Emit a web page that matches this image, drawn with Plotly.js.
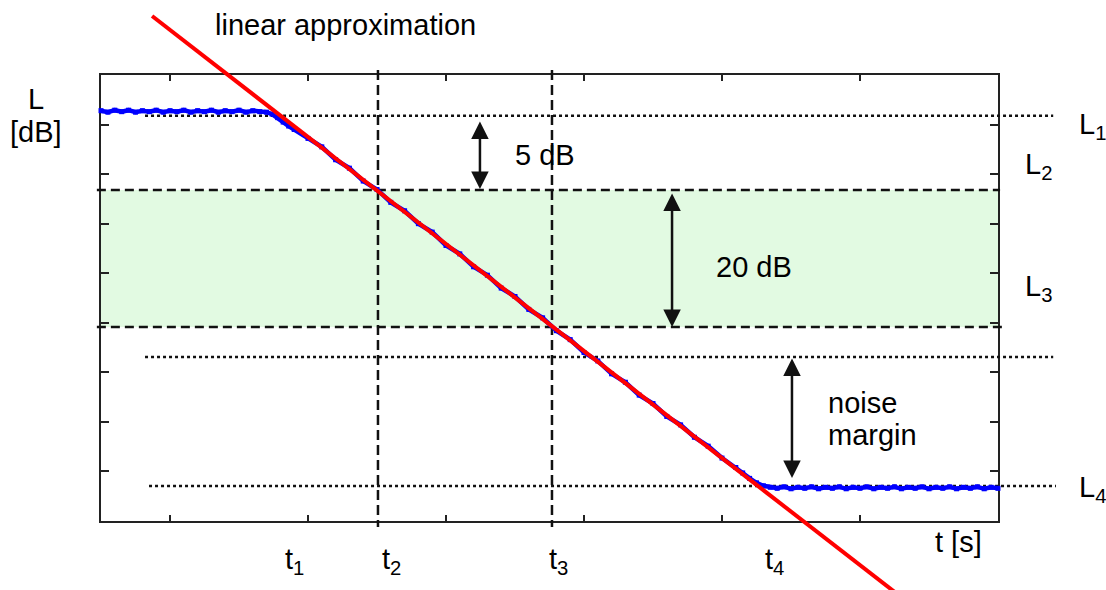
<!DOCTYPE html>
<html>
<head>
<meta charset="utf-8">
<script src="https://cdn.plot.ly/plotly-3.0.1.min.js"></script>
<style>
  body { margin: 0; background: #fff; }
  #chart { width: 1106px; height: 590px; }
</style>
</head>
<body>
<div id="chart"></div>
<script>
// decay curve (t in s, L in dB, arbitrary scale 0..90)
var decayT = [0, 0.05, 0.1, 0.15, 0.2, 0.25, 0.3, 0.35, 0.4, 0.45, 0.5, 0.55, 0.6, 0.65, 0.7, 0.75,
  0.8, 0.85, 0.9, 0.95, 1.0, 1.05, 1.1, 1.15, 1.2, 1.24, 1.28, 1.32, 1.36, 1.4,
  1.5, 1.6, 1.7, 1.8, 1.9, 2.0, 2.1, 2.2, 2.3, 2.4, 2.5, 2.6, 2.7, 2.8, 2.9, 3.0,
  3.1, 3.2, 3.3, 3.4, 3.5, 3.6, 3.7, 3.8, 3.9, 4.0, 4.1, 4.2, 4.3, 4.4, 4.5, 4.6,
  4.65, 4.7, 4.75, 4.8, 4.85, 4.9, 4.95, 5.0, 5.05, 5.1, 5.15, 5.2, 5.25, 5.3, 5.35,
  5.4, 5.45, 5.5, 5.55, 5.6, 5.65, 5.7, 5.75, 5.8, 5.85, 5.9, 5.95, 6.0, 6.05, 6.1,
  6.15, 6.2, 6.25, 6.3, 6.35, 6.4, 6.45, 6.5];
var decayL = [82.8, 82.5, 82.9, 82.6, 82.9, 82.5, 82.8, 82.6, 82.9, 82.5, 82.8, 82.6, 82.9, 82.5, 82.8, 82.6,
  82.9, 82.5, 82.8, 82.6, 82.9, 82.5, 82.8, 82.6, 82.5, 82.1, 81.4, 80.5, 79.7, 79.0,
  77.2, 75.5, 72.9, 71.2, 68.6, 66.9, 64.3, 62.6, 60.0, 58.3, 55.6, 53.9, 51.3, 49.6, 47.0, 45.3,
  42.7, 41.0, 38.4, 36.6, 34.0, 32.3, 29.7, 28.0, 25.4, 23.7, 21.1, 19.4, 16.9, 15.1, 12.7, 10.8,
  9.7, 8.6, 7.7, 7.1, 6.8, 6.6, 6.9, 6.5, 6.8, 6.6, 6.9, 6.5, 6.8, 6.6, 6.9,
  6.5, 6.8, 6.6, 6.9, 6.5, 6.8, 6.6, 6.9, 6.5, 6.8, 6.6, 6.9, 6.5, 6.8, 6.6,
  6.9, 6.5, 6.8, 6.6, 6.9, 6.5, 6.8, 6.6];

// straight fit through the decay
var fitT = [0.37, 6.0];
var fitL = [101.9, -19.7];

// reference levels (dB) and where the helper lines start / end (s)
var levelNames = ["L<sub>1</sub>", "L<sub>2</sub>", "L<sub>3</sub>", "L<sub>4</sub>"];
var levelL = [81.8, 66.8, 39.15, 7.06];
var noiseL = 33.1;
var dottedFrom = [0.319, 0.319, 0.348];   // L1, noise, L4
var dottedTo = [6.90, 6.90, 6.92];
var dashedFrom = [-0.03, -0.03];          // L2, L3
var dashedTo = [6.515, 6.535];

// time marks
var timeNames = ["t<sub>1</sub>", "t<sub>2</sub>", "t<sub>3</sub>", "t<sub>4</sub>"];
var timeLabelT = [1.319, 2.022, 3.232, 4.797];
var vlineT = [2.007, 3.268];
var vlineL = [91.0, -1.2];

// double arrows
var arrowText = ["5 dB", "20 dB"];
var arrowT = [2.746, 4.138, 5.007];
var arrowTop = [80.9, 66.4, 33.1];
var arrowBottom = [67.0, 39.15, 8.7];

// axis ticks
var xTicks = [0.5, 1.5, 2.5, 3.5, 4.5, 5.5];
var yTicks = [10, 20, 30, 40, 50, 60, 70, 80, 90];

var W = 1106, H = 590;
var box = {l: 101, r: 998, t: 75, b: 521};
var xMax = 6.5, yMax = 90;
var kx = (box.r - box.l) / xMax;
var ky = (box.b - box.t) / yMax;

var font = "Arial, 'Liberation Sans', sans-serif";
var black = "#111";

var traces = [];

// green band between L2 and L3
traces.push({
  x: [0, xMax, xMax, 0], y: [levelL[2], levelL[2], levelL[1], levelL[1]],
  xaxis: "x", yaxis: "y",
  type: "scatter", mode: "lines", fill: "toself",
  fillcolor: "rgb(226,250,226)", line: {width: 0}, hoverinfo: "skip"
});

// dotted helper lines
var dottedL = [levelL[0], noiseL, levelL[3]];
dottedL.forEach(function (v, i) {
  traces.push({
    x: [dottedFrom[i], dottedTo[i]], y: [v, v], xaxis: "x2", yaxis: "y2",
    type: "scatter", mode: "lines", line: {color: black, width: 2.5, dash: "3px,3px"}
  });
});

// dashed L2 / L3
[levelL[1], levelL[2]].forEach(function (v, i) {
  traces.push({
    x: [dashedFrom[i], dashedTo[i]], y: [v, v], xaxis: "x2", yaxis: "y2",
    type: "scatter", mode: "lines", line: {color: black, width: 2.5, dash: "9px,5px"}
  });
});

// dashed t2 / t3
vlineT.forEach(function (t) {
  traces.push({
    x: [t, t], y: vlineL, xaxis: "x2", yaxis: "y2",
    type: "scatter", mode: "lines", line: {color: black, width: 2.5, dash: "10px,5px"}
  });
});

traces.push({
  x: decayT, y: decayL, xaxis: "x2", yaxis: "y2",
  type: "scatter", mode: "lines+markers",
  line: {color: "rgb(0,0,255)", width: 4.5},
  marker: {symbol: "square", size: 5, color: "rgb(0,0,255)"}
});

traces.push({
  x: fitT, y: fitL, xaxis: "x2", yaxis: "y2",
  type: "scatter", mode: "lines", line: {color: "rgb(255,0,0)", width: 4}
});

function label(text, x, y, xanchor, size) {
  return {
    text: text, x: x, y: y, xref: "x2", yref: "y2",
    xanchor: xanchor || "center", yanchor: "middle", showarrow: false,
    font: {family: font, size: size || 29, color: "#000"}
  };
}

var annotations = [];
arrowT.forEach(function (t, i) {
  annotations.push({
    text: "", x: t, y: arrowBottom[i], ax: t, ay: arrowTop[i],
    xref: "x2", yref: "y2", axref: "x2", ayref: "y2",
    showarrow: true, arrowside: "end+start", arrowhead: 2, arrowsize: 1.4,
    arrowwidth: 2.5, arrowcolor: black, standoff: 0, startstandoff: 0,
    font: {size: 1}
  });
});

annotations.push(label("linear approximation", 0.812, 100.1, "left"));
annotations.push(label("L", -0.471, 85.2));
annotations.push(label("[dB]", -0.471, 78.5));
annotations.push(label(arrowText[0], 3.217, 73.9));
annotations.push(label(arrowText[1], 4.732, 51.3));
annotations.push(label("noise", 5.254, 23.8, "left"));
annotations.push(label("margin", 5.254, 17.4, "left"));
annotations.push(label("t [s]", 6.029, -4.2, "left"));

var levelLabelT = [7.072, 6.681, 6.681, 7.072];
var levelLabelL = [79.8, 71.7, 47.1, 6.4];
levelNames.forEach(function (n, i) {
  annotations.push(label(n, levelLabelT[i], levelLabelL[i], "left"));
});
timeNames.forEach(function (n, i) {
  annotations.push(label(n, timeLabelT[i], -8.0, "left"));
});

var layout = {
  width: W, height: H,
  margin: {l: 0, r: 0, t: 0, b: 0},
  paper_bgcolor: "#fff", plot_bgcolor: "rgba(0,0,0,0)",
  showlegend: false,
  xaxis: {
    domain: [box.l / W, box.r / W], range: [0, xMax], anchor: "y",
    showgrid: false, zeroline: false, showline: true, mirror: "ticks",
    linecolor: "#222", linewidth: 1.5,
    ticks: "inside", ticklen: 6, tickwidth: 1.5, tickcolor: "#222",
    tickmode: "array", tickvals: xTicks, showticklabels: false, fixedrange: true
  },
  yaxis: {
    domain: [(H - box.b) / H, (H - box.t) / H], range: [0, yMax], anchor: "x",
    showgrid: false, zeroline: false, showline: true, mirror: "ticks",
    linecolor: "#222", linewidth: 1.5,
    ticks: "inside", ticklen: 8, tickwidth: 1.5, tickcolor: "#222",
    tickmode: "array", tickvals: yTicks, showticklabels: false, fixedrange: true
  },
  // full-canvas axes on the same scale, so lines can run past the box
  xaxis2: {
    domain: [0, 1], anchor: "y2", visible: false, fixedrange: true,
    range: [-box.l / kx, xMax + (W - box.r) / kx]
  },
  yaxis2: {
    domain: [0, 1], anchor: "x2", visible: false, fixedrange: true,
    range: [-(H - box.b) / ky, yMax + box.t / ky]
  },
  annotations: annotations
};

Plotly.newPlot("chart", traces, layout, {displayModeBar: false});
</script>
</body>
</html>
